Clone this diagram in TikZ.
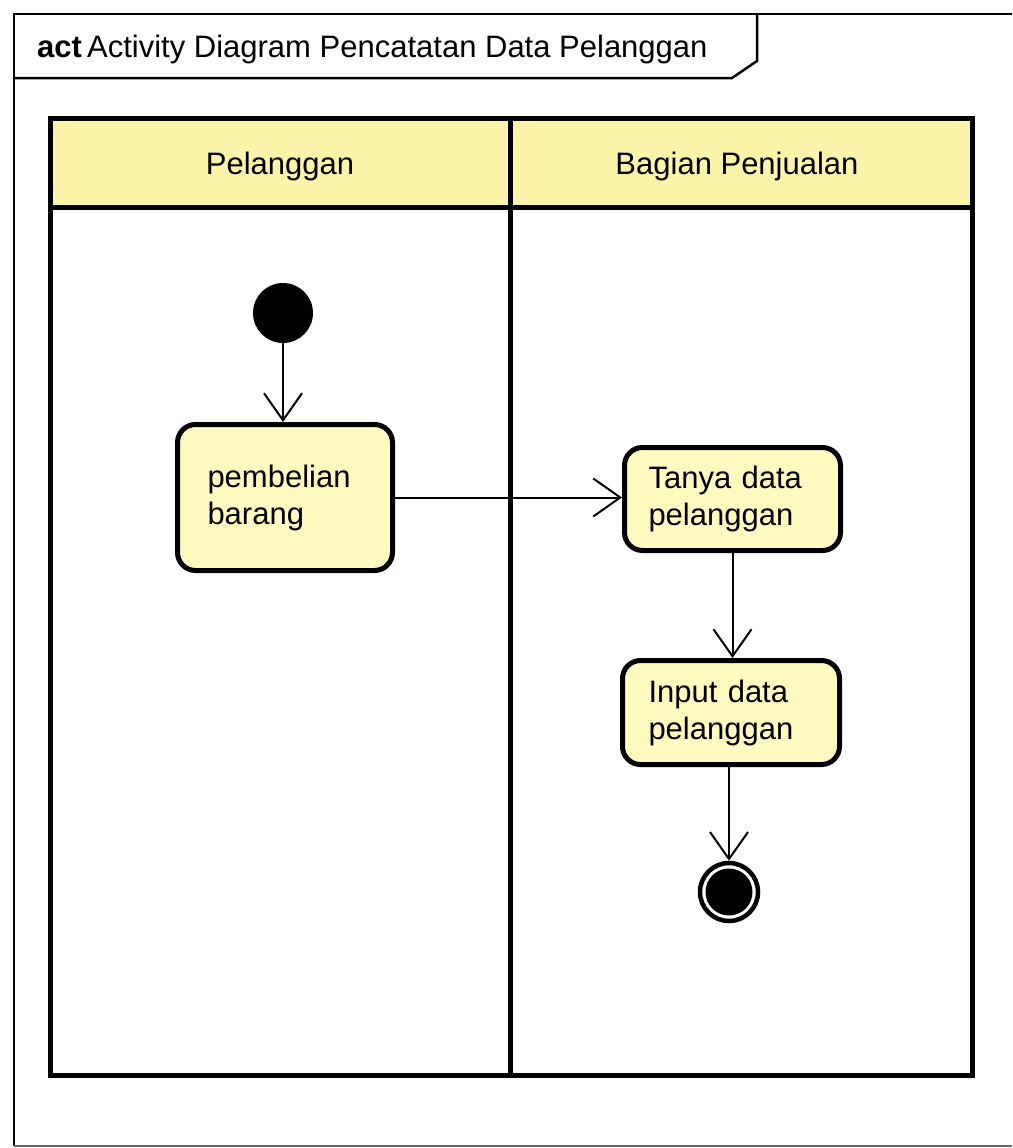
\documentclass[tikz,border=0pt]{standalone}
\usepackage{fontspec}
\setmainfont{Liberation Sans}
\usetikzlibrary{arrows.meta}
\definecolor{laneyellow}{RGB}{252,244,168}
\definecolor{actyellow}{RGB}{255,250,192}
\tikzset{
  frameline/.style={draw=black, line width=2pt},
  lanebox/.style={draw=black, line width=5pt},
  lanehead/.style={font=\fontsize{31}{37}\selectfont},
  action/.style={draw=black, line width=5pt, fill=actyellow, rounded corners=18pt,
    align=left, font=\fontsize{31}{37}\selectfont, inner ysep=0pt, anchor=north west},
  flow/.style={draw=black, line width=2pt, -{Straight Barb[length=27pt,width=38pt,line width=2pt]}},
  initnode/.style={circle, fill=black, minimum size=60pt, inner sep=0pt},
  finalouter/.style={circle, draw=black, line width=4.5pt, fill=white, minimum size=58pt, inner sep=0pt},
}
\begin{document}
\begin{tikzpicture}[x=1pt,y=-1pt]
\useasboundingbox (0,0) rectangle (1012,1148);
\fill[white] (0,0) rectangle (1012,1148);
% outer frame
\draw[frameline] (1012,14) -- (14,14) -- (14,1146);
\draw[line width=1.2pt, black!60] (14,1146) -- (1012,1146);
\draw[line width=2.5pt] (14,78) -- (732,78) -- (757,61) -- (757,14);
\node[anchor=base west, font=\fontsize{31}{37}\selectfont, inner sep=0pt] (title) at (37,57) {\textbf{act}\,Activity Diagram Pencatatan Data Pelanggan};
% swimlanes
\fill[laneyellow] (50,118) rectangle (972,207);
\draw[lanebox] (50,118) rectangle (972,1075);
\draw[lanebox] (50,207) -- (972,207);
\draw[lanebox] (510,118) -- (510,1075);
\node[lanehead] (lane1) at (280,166) {Pelanggan};
\node[lanehead] (lane2) at (737,166) {Bagian Penjualan};
% nodes
\node[initnode] (start) at (283,313) {};
\node[action, minimum width=215pt, minimum height=146pt, text width=155pt, inner xsep=29pt] (beli) at (175,422) {pembelian\\barang};
\node[action, minimum width=216pt, minimum height=103pt, text width=168pt, inner xsep=24pt] (tanya) at (622,445) {Tanya data\\pelanggan};
\node[action, minimum width=217pt, minimum height=104pt, text width=165pt, inner xsep=26pt] (input) at (620,658) {Input data\\pelanggan};
\node[finalouter] (end) at (729,892) {};
\fill[black] (end.center) circle (23.5pt);
% flows
\draw[flow] (start) -- (start |- beli.north);
\draw[flow] (beli.east) -- (tanya.west |- beli.east);
\draw[flow] (tanya.south) -- (tanya.south |- input.north);
\draw[flow] (end |- input.south) -- (end.north);
\end{tikzpicture}
\end{document}
